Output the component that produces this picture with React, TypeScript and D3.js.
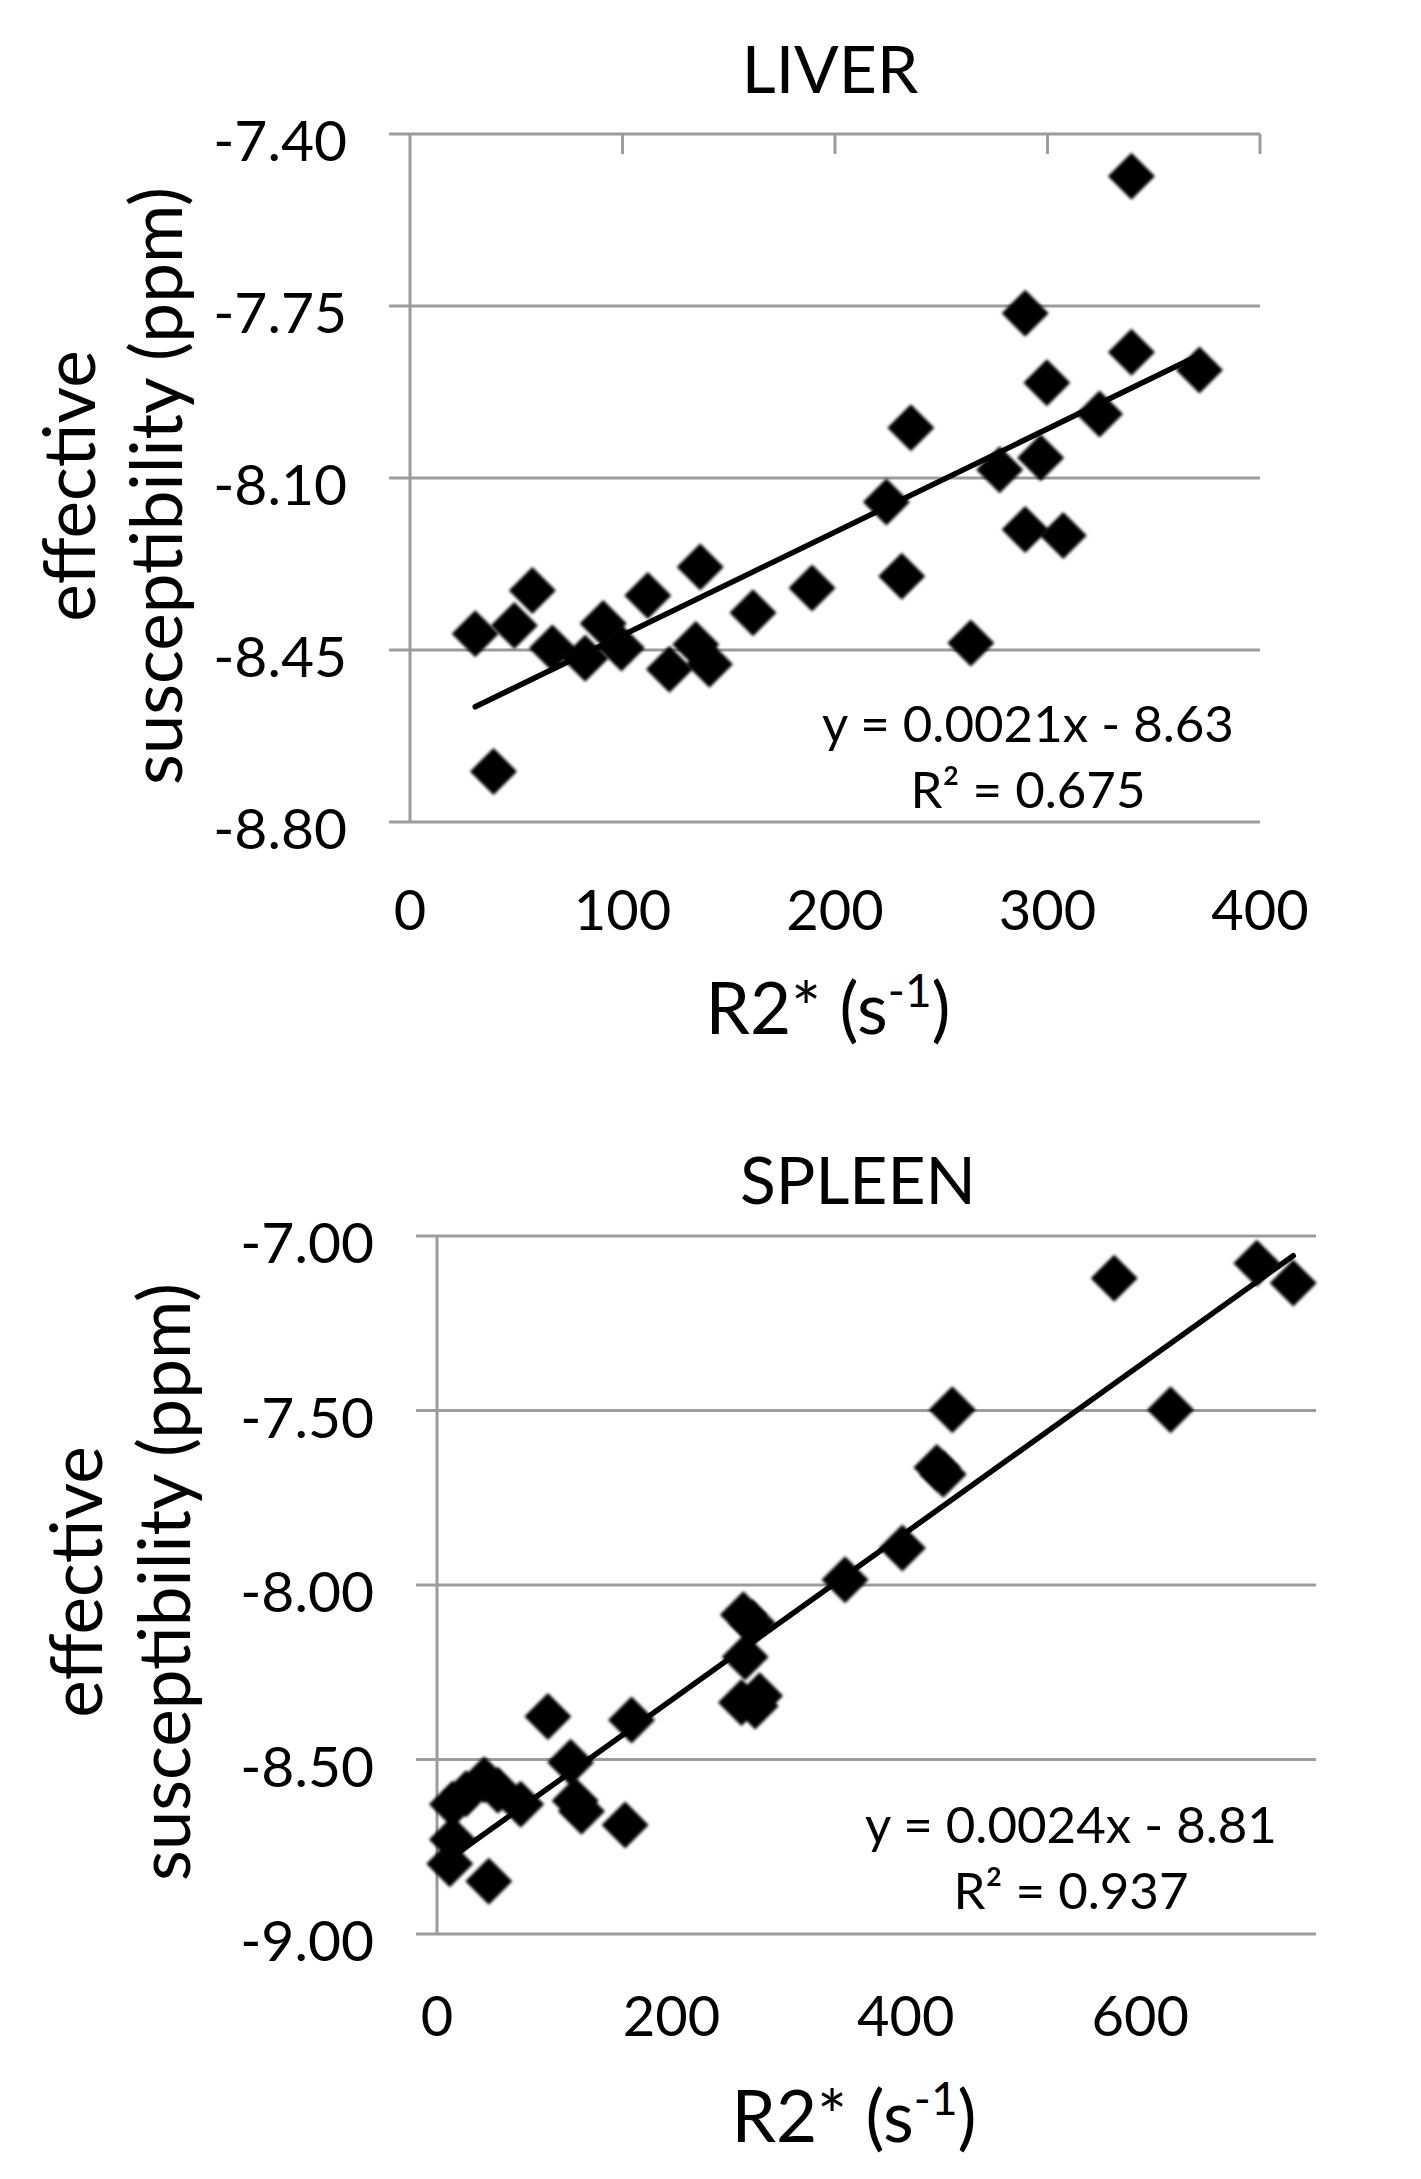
import * as d3 from "d3";
import { useEffect, useRef } from "react";

// ---- data ----
const liverR2 = [
  30.7, 39.3, 49.1, 57.6, 67.0, 82.4, 90.9, 99.5, 111.9, 122.1, 134.5, 136.6,
  140.9, 161.4, 189.2, 224.2, 231.4, 235.7, 263.9, 277.5, 289.5, 289.5, 296.8,
  299.7, 307.4, 324.5, 339.5, 339.5, 371.5,
];
const liverSusc = [
  -8.417, -8.697, -8.4, -8.329, -8.446, -8.467, -8.396, -8.446, -8.339, -8.489,
  -8.439, -8.281, -8.479, -8.374, -8.324, -8.149, -8.3, -7.998, -8.436, -8.083,
  -7.765, -8.205, -8.059, -7.906, -8.217, -7.97, -7.486, -7.844, -7.88,
];
const liverXTicks = [0, 100, 200, 300, 400];
const liverYTicks = [-7.4, -7.75, -8.1, -8.45, -8.8];
const liverFit = { slope: 0.0021, intercept: -8.63, r2: 0.675 };

const spleenR2 = [
  10.9, 13.2, 13.2, 24.8, 40.3, 44.2, 52.0, 71.4, 94.6, 114.0, 117.9, 123.3,
  160.5, 166.0, 259.8, 261.4, 262.9, 269.1, 271.5, 275.3, 348.2, 397.1, 426.5,
  431.9, 439.7, 577.8, 625.9, 699.5, 730.6,
];
const spleenSusc = [
  -8.799, -8.729, -8.628, -8.598, -8.558, -8.849, -8.588, -8.628, -8.377,
  -8.508, -8.618, -8.648, -8.688, -8.387, -8.337, -8.085, -8.206, -8.109,
  -8.347, -8.317, -7.985, -7.894, -7.663, -7.683, -7.498, -7.121, -7.498,
  -7.078, -7.135,
];
const spleenXTicks = [0, 200, 400, 600];
const spleenYTicks = [-7.0, -7.5, -8.0, -8.5, -9.0];
const spleenFit = { slope: 0.0024, intercept: -8.81, r2: 0.937 };

const FONT = "Lato, 'Open Sans', sans-serif";
const GRID = "#9c9c9c";

interface Panel {
  title: string;
  xs: number[];
  ys: number[];
  xTicks: number[];
  yTicks: number[];
  xMax: number;
  fit: { slope: number; intercept: number; r2: number };
  box: { left: number; right: number; top: number; bottom: number };
  topTicks: boolean;
  titleAt: [number, number];
  eqAt: [number, number];
  xTitleAt: [number, number];
  yLabelX: [number, number];
  yLabelY: number;
  xTickY: number;
}

const panels: Panel[] = [
  {
    title: "LIVER",
    xs: liverR2,
    ys: liverSusc,
    xTicks: liverXTicks,
    yTicks: liverYTicks,
    xMax: 400,
    fit: liverFit,
    box: { left: 410, right: 1260, top: 134, bottom: 822 },
    topTicks: true,
    titleAt: [830, 93],
    eqAt: [1028, 742],
    xTitleAt: [828, 1034],
    yLabelX: [95, 182],
    yLabelY: 486,
    xTickY: 930,
  },
  {
    title: "SPLEEN",
    xs: spleenR2,
    ys: spleenSusc,
    xTicks: spleenXTicks,
    yTicks: spleenYTicks,
    xMax: 750,
    fit: spleenFit,
    box: { left: 437, right: 1316, top: 1236, bottom: 1934 },
    topTicks: false,
    titleAt: [858, 1204],
    eqAt: [1071, 1843],
    xTitleAt: [854, 2142],
    yLabelX: [102, 190],
    yLabelY: 1582,
    xTickY: 2036,
  },
];

// square turned 45deg; sqrt(size) is the full diagonal
const diamond = {
  draw(ctx: d3.Path, size: number) {
    const r = Math.sqrt(size) / 2;
    ctx.moveTo(0, -r);
    ctx.lineTo(r, 0);
    ctx.lineTo(0, r);
    ctx.lineTo(-r, 0);
    ctx.closePath();
  },
};

// Excel style labels: plain hyphen, two decimals
const fmtY = (d: number) => d3.format(".2f")(d).replace("\u2212", "-");

function drawPanel(svg: d3.Selection<SVGSVGElement, unknown, null, undefined>, p: Panel) {
  const { left, right, top, bottom } = p.box;
  const x = d3.scaleLinear().domain([0, p.xMax]).range([left, right]);
  const y = d3
    .scaleLinear()
    .domain([d3.min(p.yTicks)!, d3.max(p.yTicks)!])
    .range([bottom, top]);

  const g = svg.append("g");

  // gridlines (with the outward tick on the left)
  g.selectAll("line.grid")
    .data(p.yTicks)
    .enter()
    .append("line")
    .attr("x1", left - 21)
    .attr("x2", right)
    .attr("y1", (d) => y(d))
    .attr("y2", (d) => y(d))
    .attr("stroke", GRID)
    .attr("stroke-width", 3);

  // vertical axis
  g.append("line")
    .attr("x1", left)
    .attr("x2", left)
    .attr("y1", top)
    .attr("y2", bottom)
    .attr("stroke", GRID)
    .attr("stroke-width", 3);

  // horizontal axis ticks sit on the top line in the liver chart
  if (p.topTicks) {
    g.selectAll("line.xtick")
      .data(p.xTicks.slice(1))
      .enter()
      .append("line")
      .attr("x1", (d) => x(d))
      .attr("x2", (d) => x(d))
      .attr("y1", top)
      .attr("y2", top + 20)
      .attr("stroke", GRID)
      .attr("stroke-width", 3);
  }

  // y tick labels
  g.selectAll("text.ytick")
    .data(p.yTicks)
    .enter()
    .append("text")
    .attr("x", left - 63)
    .attr("y", (d) => y(d) + 27)
    .attr("text-anchor", "end")
    .style("font-family", FONT)
    .style("font-size", "57px")
    .text((d) => fmtY(d));

  // x tick labels
  g.selectAll("text.xtick")
    .data(p.xTicks)
    .enter()
    .append("text")
    .attr("x", (d) => x(d))
    .attr("y", p.xTickY)
    .attr("text-anchor", "middle")
    .style("font-family", FONT)
    .style("font-size", "56px")
    .text((d) => d);

  // trendline
  const [x0, x1] = d3.extent(p.xs) as [number, number];
  const line = d3
    .line<number>()
    .x((d) => x(d))
    .y((d) => y(p.fit.slope * d + p.fit.intercept));
  g.append("path")
    .attr("d", line([x0, x1]))
    .attr("fill", "none")
    .attr("stroke", "#000")
    .attr("stroke-width", 5.5)
    .attr("stroke-linecap", "round");

  // markers
  const sym = d3.symbol(diamond as d3.SymbolType, 47 * 47);
  g.selectAll("path.pt")
    .data(p.xs.map((v, i) => [v, p.ys[i]]))
    .enter()
    .append("path")
    .attr("d", sym)
    .attr("transform", (d) => `translate(${x(d[0])},${y(d[1])})`)
    .attr("fill", "#000")
    .attr("filter", "url(#soft)");

  // title
  g.append("text")
    .attr("x", p.titleAt[0])
    .attr("y", p.titleAt[1])
    .attr("text-anchor", "middle")
    .style("font-family", FONT)
    .style("font-size", "66px")
    .text(p.title);

  // fit equation
  const sign = p.fit.intercept < 0 ? "-" : "+";
  g.append("text")
    .attr("x", p.eqAt[0])
    .attr("y", p.eqAt[1])
    .attr("text-anchor", "middle")
    .style("font-family", FONT)
    .style("font-size", "51px")
    .text(`y = ${p.fit.slope.toFixed(4)}x ${sign} ${Math.abs(p.fit.intercept).toFixed(2)}`);
  g.append("text")
    .attr("x", p.eqAt[0])
    .attr("y", p.eqAt[1] + 66)
    .attr("text-anchor", "middle")
    .style("font-family", FONT)
    .style("font-size", "51px")
    .text(`R² = ${p.fit.r2.toFixed(3)}`);

  // x axis title
  const xt = g
    .append("text")
    .attr("x", p.xTitleAt[0])
    .attr("y", p.xTitleAt[1])
    .attr("text-anchor", "middle")
    .style("font-family", FONT)
    .style("font-size", "71px");
  xt.append("tspan").text("R2* (s");
  xt.append("tspan").attr("dy", -27).style("font-size", "46px").text("-1");
  xt.append("tspan").attr("dy", 27).text(")");

  // y axis title, two lines
  const yt = g
    .append("text")
    .attr("transform", `translate(0,${p.yLabelY}) rotate(-90)`)
    .attr("text-anchor", "middle")
    .style("font-family", FONT)
    .style("font-size", "71px");
  yt.append("tspan").attr("x", 0).attr("y", p.yLabelX[0]).text("effective");
  yt.append("tspan").attr("x", 0).attr("y", p.yLabelX[1]).text("susceptibility (ppm)");
}

export default function App() {
  const svgRef = useRef<SVGSVGElement>(null);

  useEffect(() => {
    if (!svgRef.current) return;
    const svg = d3.select(svgRef.current);
    svg.selectAll("*").remove();

    svg
      .append("defs")
      .append("filter")
      .attr("id", "soft")
      .attr("x", "-20%")
      .attr("y", "-20%")
      .attr("width", "140%")
      .attr("height", "140%")
      .append("feGaussianBlur")
      .attr("stdDeviation", 1.6);

    panels.forEach((p) => drawPanel(svg, p));
  }, []);

  return (
    <svg
      ref={svgRef}
      width={1421}
      height={2179}
      style={{ position: "absolute", left: 0, top: 0, background: "#fff" }}
    />
  );
}
